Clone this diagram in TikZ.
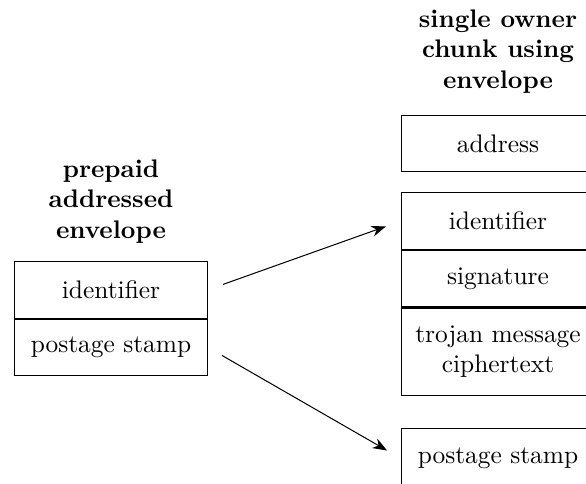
\documentclass[tikz,border=0pt]{standalone}
\usetikzlibrary{arrows.meta,positioning}

\begin{document}
\begin{tikzpicture}[x=0.3937pt,y=-0.3937pt,
  cell/.style={draw,minimum width=76pt,minimum height=22.3pt,inner sep=0pt,align=center},
  ttl/.style={font=\bfseries,align=center},
  ar/.style={-{Stealth[length=2mm]},shorten <=6.3pt,shorten >=6.3pt}]
\useasboundingbox (0,0) rectangle (586,483);
% envelope on the left
\node[cell] (id) at (111,289.75) {identifier};
\node[cell,below=0pt of id] (ps) {postage stamp};
\node[ttl,above=3.5pt of id] (t1) {prepaid\\addressed\\envelope};
% chunk on the right
\node[cell] (addr) at (498,143.5) {address};
\node[cell] (id2) at (498,221) {identifier};
\node[cell,below=0pt of id2] (sig) {signature};
\node[cell,below=0pt of sig,minimum height=34.3pt] (tro) {trojan message\\ciphertext};
\node[cell,minimum height=24pt] (ps2) at (498,458.5) {postage stamp};
\node[ttl,above=5pt of addr] (t2) {single owner\\chunk using\\envelope};
\foreach \x/\y in {id/id2,ps/ps2} \draw[ar] (\x.east) -- (\y.west);
\end{tikzpicture}
\end{document}
